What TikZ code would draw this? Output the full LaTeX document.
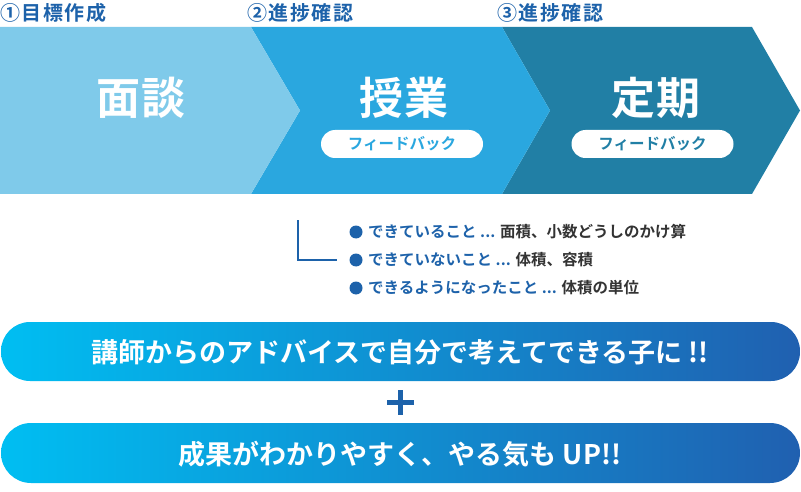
\documentclass[tikz,border=0pt]{standalone}
\usepackage{fontspec}
\setmainfont{Noto Sans CJK JP}[BoldFont={* Bold}]
\usetikzlibrary{shapes.misc}
\definecolor{c1}{HTML}{7FCAEA}
\definecolor{c2}{HTML}{2AA7DF}
\definecolor{c3}{HTML}{217FA5}
\definecolor{tblue}{HTML}{1D62AA}
\definecolor{gl}{HTML}{00BEF2}
\definecolor{gr}{HTML}{2060B0}
\definecolor{dtext}{HTML}{333333}
\begin{document}
\begin{tikzpicture}[x=1pt,y=-1pt,
  title/.style={font=\fontsize{20}{20}\selectfont\bfseries\addfontfeatures{LetterSpace=8}, text=tblue, anchor=west, inner sep=0},
  big/.style={font=\fontsize{44}{44}\selectfont\bfseries\addfontfeatures{LetterSpace=4}, text=white, inner sep=0},
  fb/.style={rounded rectangle, fill=white, minimum width=162pt, minimum height=28pt, inner sep=0, font=\fontsize{15.5}{15.5}\selectfont\bfseries},
  item/.style={anchor=west, inner sep=0, font=\fontsize{15.5}{15.5}\selectfont\bfseries},
  pilltext/.style={text=white, font=\fontsize{27}{27}\selectfont\bfseries, inner sep=0},
  bullet/.style={circle, fill=tblue, minimum size=13pt, inner sep=0}]
\useasboundingbox (0,0) rectangle (801,492);
% chevrons
\fill[c3] (502,27) -- (752,27) -- (800,110.5) -- (752,194) -- (502,194) -- (550,110.5) -- cycle;
\fill[c2] (251,27) -- (502,27) -- (550,110.5) -- (502,194) -- (251,194) -- (300,110.5) -- cycle;
\fill[c1] (0,27) -- (251,27) -- (300,110.5) -- (251,194) -- (0,194) -- cycle;
% titles
\node[title] (t1) at (0,13) {①目標作成};
\node[title] (t2) at (247,13) {②進捗確認};
\node[title] (t3) at (497,13) {③進捗確認};
% big labels
\node[big] (m1) at (141,98) {面談};
\node[big] (m2) at (404,98) {授業};
\node[big] (m3) at (656,98) {定期};
% feedback pills
\node[fb, text=c2] (f2) at (402,144) {フィードバック};
\node[fb, text=c3] (f3) at (652.5,144) {フィードバック};
% bracket
\coordinate (b0) at (298,220);
\coordinate (b1) at (298,260);
\coordinate (b2) at (337,260);
\draw[tblue, line width=2pt] (b0) -- (b1) -- (b2);
% bullets
\node[bullet] (d1) at (356,232) {};
\node[bullet] (d2) at (356,260) {};
\node[bullet] (d3) at (356,288) {};
\node[item] (i1) at (368,232) {\textcolor{tblue}{できていること ...} \textcolor{dtext}{面積、小数どうしのかけ算}};
\node[item] (i2) at (368,260) {\textcolor{tblue}{できていないこと ...} \textcolor{dtext}{体積、容積}};
\node[item] (i3) at (368,288) {\textcolor{tblue}{できるようになったこと ...} \textcolor{dtext}{体積の単位}};
% bottom pills
\shade[left color=gl, right color=gr, rounded corners=29pt] (1,322) rectangle (800,381);
\node[pilltext] (p1) at (400,352) {講師からのアドバイスで自分で考えてできる子に !!};
\draw[tblue, line width=5pt] (387,402.5) -- (414,402.5);
\draw[tblue, line width=5pt] (400.5,390) -- (400.5,415);
\shade[left color=gl, right color=gr, rounded corners=30pt] (1,423) rectangle (800,483);
\node[pilltext] (p2) at (400,454) {成果がわかりやすく、やる気も UP!!};
\end{tikzpicture}
\end{document}
